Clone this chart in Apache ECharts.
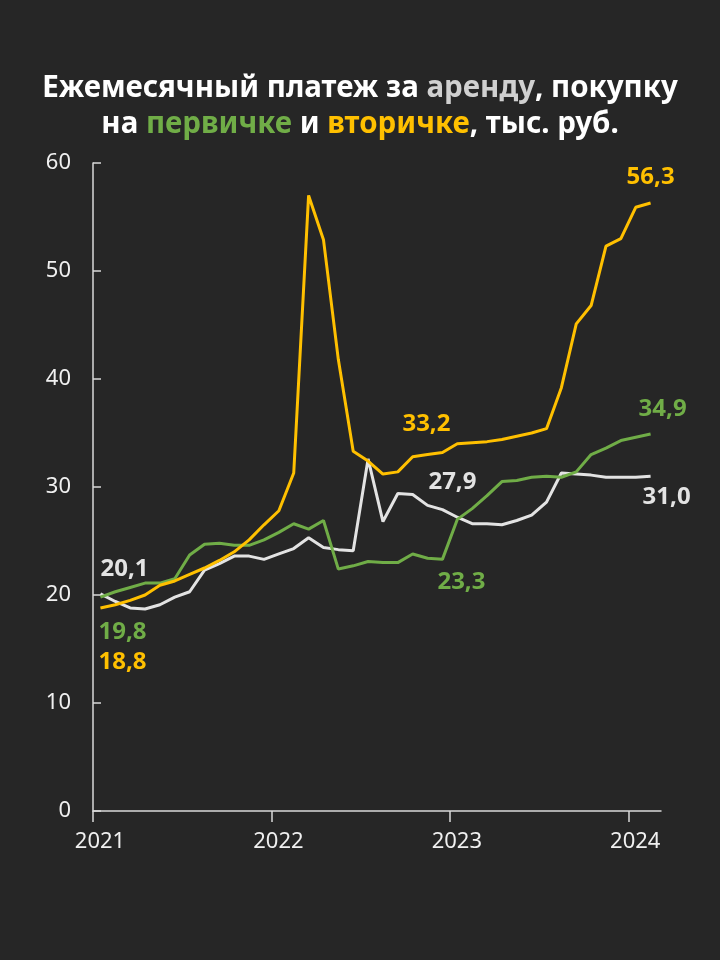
<!DOCTYPE html>
<html>
<head>
<meta charset="utf-8">
<script src="https://cdn.jsdelivr.net/npm/echarts@6/dist/echarts.min.js"></script>
<style>
  html, body {margin: 0; padding: 0; background: #262626;}
  #chart {width: 720px; height: 960px;}
</style>
</head>
<body>
<div id="chart"></div>
<script>
// месяцы с января 2021 по февраль 2024
var yearTicks = ['2021', '2022', '2023', '2024'];

// аренда
var rent = [20.1, 19.4, 18.8, 18.7, 19.1, 19.8, 20.3, 22.3, 22.9, 23.6, 23.6, 23.3,
            23.8, 24.3, 25.3, 24.4, 24.2, 24.1, 32.6, 26.8, 29.4, 29.3, 28.3, 27.9,
            27.2, 26.6, 26.6, 26.5, 26.9, 27.4, 28.6, 31.3, 31.2, 31.1, 30.9, 30.9,
            30.9, 31.0];
// первичка
var primary = [19.8, 20.3, 20.7, 21.1, 21.1, 21.5, 23.7, 24.7, 24.8, 24.6, 24.6, 25.1,
               25.8, 26.6, 26.1, 26.9, 22.4, 22.7, 23.1, 23.0, 23.0, 23.8, 23.4, 23.3,
               27.0, 28.0, 29.2, 30.5, 30.6, 30.9, 31.0, 30.9, 31.4, 33.0, 33.6, 34.3,
               34.6, 34.9];
// вторичка
var secondary = [18.8, 19.1, 19.5, 20.0, 20.9, 21.3, 21.9, 22.5, 23.2, 24.0, 25.1, 26.5,
                 27.8, 31.3, 57.0, 52.9, 41.8, 33.3, 32.4, 31.2, 31.4, 32.8, 33.0, 33.2,
                 34.0, 34.1, 34.2, 34.4, 34.7, 35.0, 35.4, 39.2, 45.1, 46.8, 52.3, 53.0,
                 55.9, 56.3];

var GREEN = '#70AD47', YELLOW = '#FFC000', WHITE = '#E3E3E3', AXIS = '#D9D9D9';
var FONT = 'Noto Sans';
var TITLE_SIZE = 29.5;

function fmt(v) {
    return v.toFixed(1).replace('.', ',');
}

// точки с подписями: индекс -> смещение подписи
function buildData(values, color, marks) {
    return values.map(function (v, i) {
        var item = {value: [i + 0.5, v]};
        if (marks[i]) {
            item.label = {
                show: true,
                position: 'inside',
                offset: marks[i],
                formatter: fmt(v),
                color: color,
                fontFamily: FONT,
                fontWeight: 'bold',
                fontSize: 24
            };
        }
        return item;
    });
}

function lineSeries(name, values, color, marks) {
    return {
        name: name,
        type: 'line',
        data: buildData(values, color, marks),
        symbol: 'circle',
        symbolSize: 0.1,
        showAllSymbol: true,
        itemStyle: {color: color},
        lineStyle: {color: color, width: 3},
        emphasis: {disabled: true},
        z: name === 'вторичка' ? 3 : 2
    };
}

function titleStyle(color) {
    return {color: color, fontFamily: FONT, fontWeight: 'bold', fontSize: TITLE_SIZE, lineHeight: 36};
}

var option = {
    backgroundColor: '#262626',
    animation: false,
    title: {
        left: 'center',
        top: 66,
        text: '{w|Ежемесячный платеж за }{g|аренду}{w|, покупку}\n' +
              '{w|на }{p|первичке}{w| и }{y|вторичке}{w|, тыс. руб.}',
        textStyle: {
            fontFamily: FONT,
            fontWeight: 'bold',
            fontSize: TITLE_SIZE,
            lineHeight: 36,
            rich: {
                w: titleStyle('#FFFFFF'),
                g: titleStyle('#D0D0D0'),
                p: titleStyle(GREEN),
                y: titleStyle(YELLOW)
            }
        }
    },
    grid: {left: 93, right: 59, top: 163, bottom: 149},
    xAxis: {
        type: 'value',
        min: 0,
        max: 38.2,
        interval: 12,
        axisLine: {show: true, lineStyle: {color: AXIS, width: 1.5}},
        axisTick: {show: true, length: 11, lineStyle: {color: AXIS, width: 1.5}},
        splitLine: {show: false},
        axisLabel: {
            color: '#F0F0F0',
            fontFamily: FONT,
            fontSize: 22,
            margin: 20,
            padding: [0, 0, 0, 14],
            formatter: function (v) {
                return yearTicks[Math.round(v / 12)] || '';
            }
        }
    },
    yAxis: {
        type: 'value',
        min: 0,
        max: 60,
        interval: 10,
        axisLine: {show: true, lineStyle: {color: AXIS, width: 1.5}},
        axisTick: {show: true, inside: true, length: 8, lineStyle: {color: AXIS, width: 1.5}},
        splitLine: {show: false},
        axisLabel: {color: '#F0F0F0', fontFamily: FONT, fontSize: 22, margin: 22}
    },
    series: [
        lineSeries('аренда', rent, WHITE, {0: [24, -25], 23: [10, -28], 37: [16, 21]}),
        lineSeries('первичка', primary, GREEN, {0: [22, 35], 23: [19, 23], 37: [12, -25]}),
        lineSeries('вторичка', secondary, YELLOW, {0: [22, 54], 23: [-16, -28], 37: [0, -26]})
    ]
};

var myChart = echarts.init(document.getElementById('chart'));
myChart.setOption(option);
</script>
</body>
</html>
